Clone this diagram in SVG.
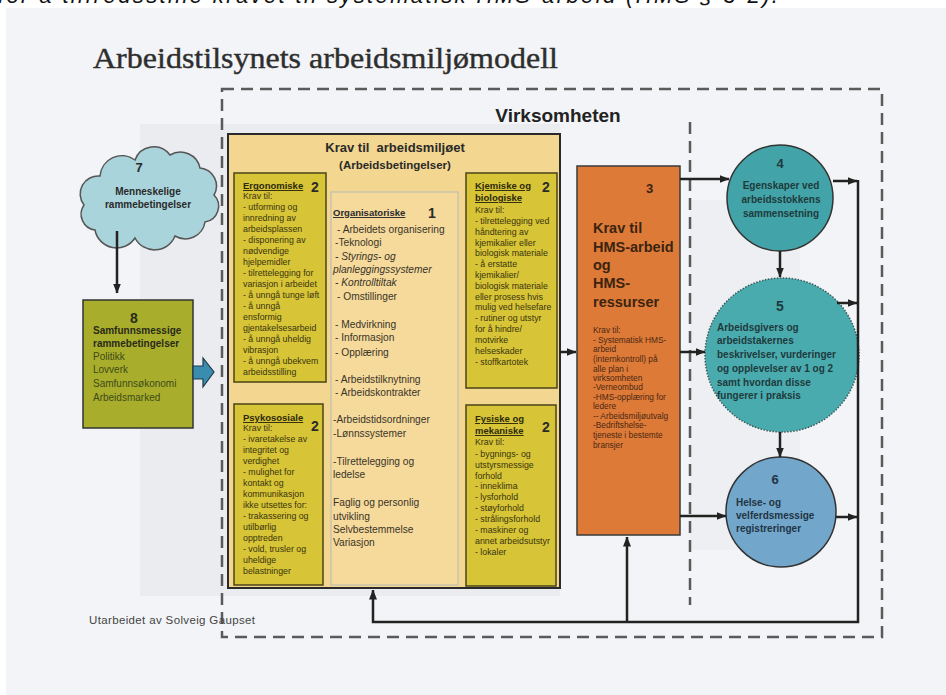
<svg xmlns="http://www.w3.org/2000/svg" width="946" height="695" viewBox="0 0 946 695">
<defs>
<style>
.t{font-family:"Liberation Sans",Arial,sans-serif}
.b{font-weight:bold}
.i{font-style:italic}
.u{text-decoration:underline}
.pre{white-space:pre}
.conn{stroke:#222;stroke-width:2.5;fill:none}
.dash{stroke:#5a5a5a;stroke-width:2.5;fill:none;stroke-dasharray:12 7}
.ybox{fill:#d7c437;stroke:#4a4418;stroke-width:1.5}
.ytx{font-size:8.8px;fill:#3a3510}
.yhd{font-size:9.5px;font-weight:bold;fill:#2e2a0c;text-decoration:underline}
.num{font-size:14px;font-weight:bold;fill:#2a2a2a}
.org{font-size:10.2px;fill:#3a3428}
.otx{font-size:8.3px;fill:#4a2812}
.circ{font-size:10px;font-weight:bold;fill:#1f3a3c}
</style>
<marker id="ah" markerWidth="10" markerHeight="10" refX="9.5" refY="5" orient="auto" markerUnits="userSpaceOnUse">
<path d="M0,1 L10,5 L0,9 Z" fill="#222"/>
</marker>
</defs>

<rect x="0" y="0" width="946" height="695" fill="#ffffff"/>
<rect x="6" y="8" width="940" height="687" fill="#f3f4f7"/>
<rect x="140" y="124" width="420" height="472" fill="#ebecef"/>
<rect x="690" y="200" width="110" height="350" fill="#eeeff2"/>

<text class="t i" x="-2" y="3" font-size="22" fill="#111" textLength="780">for å tilfredsstille kravet til systematisk HMS-arbeid (HMS § 3-2).</text>

<text x="93" y="68" font-family="'Liberation Serif','Times New Roman',serif" font-size="29" fill="#2e2e2e" stroke="#2e2e2e" stroke-width="0.4" textLength="465" lengthAdjust="spacingAndGlyphs">Arbeidstilsynets arbeidsmiljømodell</text>

<g id="virksomheten">
<path class="dash" d="M222,89 H882 V637 H222 Z"/>
<path class="dash" d="M690,122 V605"/>
<text class="t b" x="558" y="122" font-size="19" fill="#222" text-anchor="middle">Virksomheten</text>
</g>

<g id="node7">
<path d="M95,230 A16,16 0 0 1 84,205 A18,18 0 0 1 100,176 A22,22 0 0 1 135,160 A20,20 0 0 1 170,155 A20,20 0 0 1 200,168 A18,18 0 0 1 214,195 A16,16 0 0 1 205,222 A20,20 0 0 1 175,236 A22,22 0 0 1 135,238 A22,22 0 0 1 95,230 Z" fill="#a9d4db" stroke="#555" stroke-width="1.5"/>
<text class="t b" x="139" y="172" font-size="13" fill="#2a2a2a" text-anchor="middle">7</text>
<text class="t b" x="148" y="195" font-size="10" fill="#2a2a2a" text-anchor="middle">Menneskelige</text>
<text class="t b" x="148" y="208" font-size="10" fill="#2a2a2a" text-anchor="middle">rammebetingelser</text>
</g>

<g id="node8">
<rect x="83" y="300" width="110" height="128" fill="#a8ae2c" stroke="#333" stroke-width="1.5"/>
<text class="t b" x="134" y="323" font-size="14" fill="#2a2a1a" text-anchor="middle">8</text>
<text class="t b" x="93" y="334" font-size="10" fill="#2a2a1a">Samfunnsmessige</text>
<text class="t b" x="93" y="347" font-size="10" fill="#2a2a1a">rammebetingelser</text>
<text class="t" x="93" y="360" font-size="10" fill="#3e4a18">Politikk</text>
<text class="t" x="93" y="373" font-size="10" fill="#3e4a18">Lovverk</text>
<text class="t" x="93" y="387" font-size="10" fill="#3e4a18">Samfunnsøkonomi</text>
<text class="t" x="93" y="401" font-size="10" fill="#3e4a18">Arbeidsmarked</text>
</g>

<g id="krav-arbeidsmiljo">
<rect x="228" y="134" width="332" height="454" fill="#f3d68f" stroke="#2a2a2a" stroke-width="2"/>
<text class="t b pre" x="395" y="152" font-size="13" fill="#2a2a2a" text-anchor="middle">Krav til  arbeidsmiljøet</text>
<text class="t b" x="395" y="169" font-size="11.5" fill="#2a2a2a" text-anchor="middle">(Arbeidsbetingelser)</text>
</g>

<g id="ergonomiske">
<rect class="ybox" x="234" y="173" width="92" height="209"/>
<text class="t yhd" x="243" y="189">Ergonomiske</text>
<text class="t num" x="311" y="192">2</text>
<g class="t ytx">
<text x="243" y="199">Krav til:</text>
<text x="243" y="210">- utforming og</text>
<text x="243" y="221">innredning av</text>
<text x="243" y="232">arbeidsplassen</text>
<text x="243" y="243">- disponering av</text>
<text x="243" y="254">nødvendige</text>
<text x="243" y="265">hjelpemidler</text>
<text x="243" y="276">- tilrettelegging for</text>
<text x="243" y="287">variasjon i arbeidet</text>
<text x="243" y="298">- å unngå tunge løft</text>
<text x="243" y="309">- å unngå</text>
<text x="243" y="320">ensformig</text>
<text x="243" y="331">gjentakelsesarbeid</text>
<text x="243" y="342">- å unngå uheldig</text>
<text x="243" y="353">vibrasjon</text>
<text x="243" y="364">- å unngå ubekvem</text>
<text x="243" y="375">arbeidsstilling</text>
</g>
</g>

<g id="organisatoriske">
<rect x="331" y="192" width="127" height="393" fill="#f5da9c" stroke="#c9c4ad" stroke-width="1.5"/>
<text class="t b u" x="333" y="216" font-size="9.5" fill="#2a2a2a">Organisatoriske</text>
<text class="t num" x="428" y="218">1</text>
<g class="t org pre">
<text x="337" y="233">- Arbeidets organisering</text>
<text x="335" y="246">-Teknologi</text>
<text x="335" y="260" class="i">- Styrings- og</text>
<text x="333" y="273" class="i">planleggingssystemer</text>
<text x="335" y="286" class="i">-  Kontrolltiltak</text>
<text x="337" y="300">- Omstillinger</text>
<text x="335" y="328">- Medvirkning</text>
<text x="335" y="341">- Informasjon</text>
<text x="335" y="356">-  Opplæring</text>
<text x="335" y="383">- Arbeidstilknytning</text>
<text x="335" y="396">- Arbeidskontrakter</text>
<text x="333" y="423">-Arbeidstidsordninger</text>
<text x="333" y="437">-Lønnssystemer</text>
<text x="333" y="465">-Tilrettelegging og</text>
<text x="333" y="478">ledelse</text>
<text x="333" y="506">Faglig og personlig</text>
<text x="333" y="520">utvikling</text>
<text x="333" y="533">Selvbestemmelse</text>
<text x="333" y="546">Variasjon</text>
</g>
</g>

<g id="kjemiske">
<rect class="ybox" x="466" y="173" width="91" height="215"/>
<text class="t yhd" x="475" y="189">Kjemiske og</text>
<text class="t yhd" x="475" y="201">biologiske</text>
<text class="t num" x="542" y="192">2</text>
<g class="t ytx">
<text x="475" y="213">Krav til:</text>
<text x="475" y="224">- tilrettelegging ved</text>
<text x="475" y="235">håndtering av</text>
<text x="475" y="246">kjemikalier eller</text>
<text x="475" y="256">biologisk materiale</text>
<text x="475" y="267">- å erstatte</text>
<text x="475" y="278">kjemikalier/</text>
<text x="475" y="289">biologisk materiale</text>
<text x="475" y="300">eller prosess hvis</text>
<text x="475" y="310">mulig ved helsefare</text>
<text x="475" y="321">- rutiner og utstyr</text>
<text x="475" y="332">for å hindre/</text>
<text x="475" y="343">motvirke</text>
<text x="475" y="354">helseskader</text>
<text x="475" y="365">- stoffkartotek</text>
</g>
</g>

<g id="psykososiale">
<rect class="ybox" x="234" y="404" width="89" height="181"/>
<text class="t yhd" x="243" y="421">Psykososiale</text>
<text class="t num" x="311" y="431">2</text>
<g class="t ytx">
<text x="243" y="431">Krav til:</text>
<text x="243" y="442">- ivaretakelse av</text>
<text x="243" y="453">integritet og</text>
<text x="243" y="464">verdighet</text>
<text x="243" y="475">- mulighet for</text>
<text x="243" y="486">kontakt og</text>
<text x="243" y="497">kommunikasjon</text>
<text x="243" y="508">ikke utsettes for:</text>
<text x="243" y="519">- trakassering og</text>
<text x="243" y="530">utilbørlig</text>
<text x="243" y="541">opptreden</text>
<text x="243" y="552">- vold, trusler og</text>
<text x="243" y="563">uheldige</text>
<text x="243" y="574">belastninger</text>
</g>
</g>

<g id="fysiske">
<rect class="ybox" x="466" y="405" width="90" height="181"/>
<text class="t yhd" x="475" y="422">Fysiske og</text>
<text class="t yhd" x="475" y="434">mekaniske</text>
<text class="t num" x="542" y="432">2</text>
<g class="t ytx">
<text x="475" y="445">Krav til:</text>
<text x="475" y="457">- bygnings- og</text>
<text x="475" y="468">utstyrsmessige</text>
<text x="475" y="479">forhold</text>
<text x="475" y="489">- inneklima</text>
<text x="475" y="500">- lysforhold</text>
<text x="475" y="511">- støyforhold</text>
<text x="475" y="522">- strålingsforhold</text>
<text x="475" y="533">- maskiner og</text>
<text x="475" y="544">annet arbeidsutstyr</text>
<text x="475" y="555">- lokaler</text>
</g>
</g>

<g id="node3">
<rect x="577" y="166" width="103" height="369" fill="#de7a38" stroke="#3a3a3a" stroke-width="1.5"/>
<text class="t b" x="646" y="193" font-size="13" fill="#3a2410">3</text>
<g class="t b" font-size="14.5" fill="#3a2410">
<text x="593" y="233">Krav til</text>
<text x="593" y="252">HMS-arbeid</text>
<text x="593" y="270">og</text>
<text x="593" y="288">HMS-</text>
<text x="593" y="307">ressurser</text>
</g>
<g class="t otx">
<text x="593" y="333">Krav til:</text>
<text x="593" y="343">- Systematisk HMS-</text>
<text x="593" y="352">arbeid</text>
<text x="593" y="362">(internkontroll) på</text>
<text x="593" y="372">alle plan i</text>
<text x="593" y="381">virksomheten</text>
<text x="593" y="390">-Verneombud</text>
<text x="593" y="400">-HMS-opplæring for</text>
<text x="593" y="409">ledere</text>
<text x="593" y="419">-- Arbeidsmiljøutvalg</text>
<text x="593" y="428">-Bedriftshelse-</text>
<text x="593" y="438">tjeneste i bestemte</text>
<text x="593" y="448">bransjer</text>
</g>
</g>

<g id="node4">
<circle cx="780" cy="198" r="53" fill="#42a4a8" stroke="#333" stroke-width="1.5"/>
<text class="t b" x="780" y="168" font-size="13" fill="#1f3a3c" text-anchor="middle">4</text>
<text class="t circ" x="781" y="189" text-anchor="middle">Egenskaper ved</text>
<text class="t circ" x="781" y="203" text-anchor="middle">arbeidsstokkens</text>
<text class="t circ" x="781" y="217" text-anchor="middle">sammensetning</text>
</g>

<g id="node5">
<circle cx="782" cy="355" r="77" fill="#4aabaf" stroke="#3a5a5a" stroke-width="1.5" stroke-dasharray="1.5 1.5"/>
<text class="t b" x="780" y="311" font-size="14" fill="#1f3a3c" text-anchor="middle">5</text>
<text class="t circ" x="717" y="331">Arbeidsgivers og</text>
<text class="t circ" x="717" y="344">arbeidstakernes</text>
<text class="t circ" x="717" y="358">beskrivelser, vurderinger</text>
<text class="t circ" x="717" y="372">og opplevelser av 1 og 2</text>
<text class="t circ" x="717" y="386">samt hvordan disse</text>
<text class="t circ" x="717" y="399">fungerer i praksis</text>
</g>

<g id="node6">
<circle cx="781" cy="512" r="55" fill="#72a7cb" stroke="#333" stroke-width="1.5"/>
<text class="t b" x="775" y="484" font-size="13" fill="#233444" text-anchor="middle">6</text>
<text class="t b" x="736" y="506" font-size="10" fill="#233444">Helse- og</text>
<text class="t b" x="736" y="519" font-size="10" fill="#233444">velferdsmessige</text>
<text class="t b" x="736" y="532" font-size="10" fill="#233444">registreringer</text>
</g>

<g id="connectors">
<path class="conn" d="M117,231 V293" marker-end="url(#ah)"/>
<path d="M193,366 H203 V358 L214,372 L203,387 V379 H193 Z" fill="#3b8db0" stroke="#1e3a4a" stroke-width="1.2"/>
<path class="conn" d="M560,352 H576" marker-end="url(#ah)"/>
<path class="conn" d="M680,179 H729" marker-end="url(#ah)"/>
<path class="conn" d="M680,352 H705" marker-end="url(#ah)"/>
<path class="conn" d="M680,516 H726" marker-end="url(#ah)"/>
<path class="conn" d="M780,251 V277" marker-end="url(#ah)"/>
<path class="conn" d="M780,432 V457" marker-end="url(#ah)"/>
<path class="conn" d="M833,181 H857" marker-end="url(#ah)"/>
<path class="conn" d="M837,303 H857" marker-end="url(#ah)"/>
<path class="conn" d="M836,517 H857" marker-end="url(#ah)"/>
<path class="conn" d="M858,180 V622 H373 V590" marker-end="url(#ah)"/>
<path class="conn" d="M627,622 V537" marker-end="url(#ah)"/>
</g>

<text class="t" x="89" y="624" font-size="11.5" fill="#444" textLength="166">Utarbeidet av Solveig Gaupset</text>
</svg>
